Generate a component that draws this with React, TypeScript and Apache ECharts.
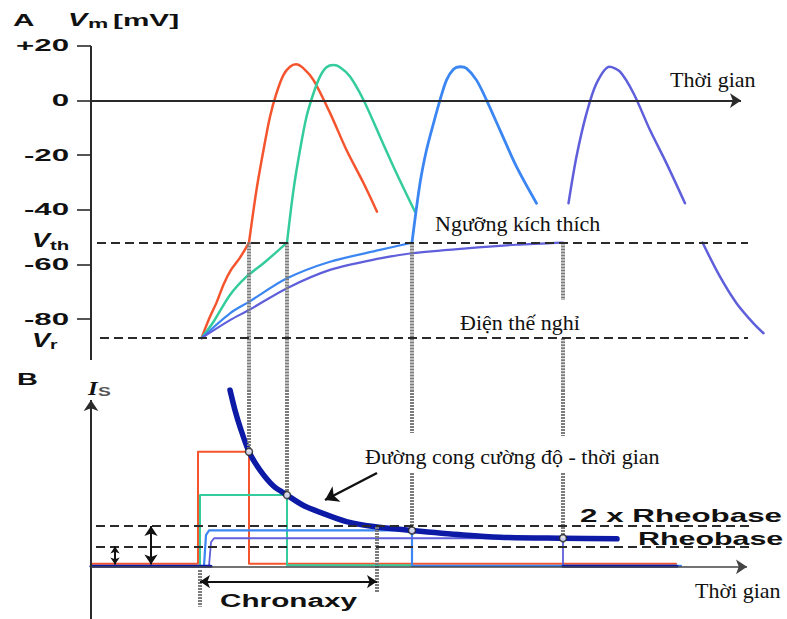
import React, { useEffect, useRef } from 'react';
import * as echarts from 'echarts';

// ---------- Panel A: membrane potential Vm (mV) vs time ----------
const vmTickValues = [20, 0, -20, -40, -60, -80];
const vmTickLabels = ['+20', '0', '-20', '-40', '-60', '-80'];
const V_TH = -52; // threshold potential
const V_R = -87; // resting potential

const redRise = [[2.21, -87], [2.36, -80], [2.51, -74], [2.66, -67], [2.8, -62], [2.98, -57.5], [3.16, -52]];
const redSpike = [[3.16, -52], [3.31, -32.7], [3.45, -18.1], [3.58, -5.9], [3.71, 2.7], [3.85, 9.4], [3.98, 12.4], [4.1, 13.3], [4.25, 11.8], [4.45, 7.5], [4.78, -4.5], [5.11, -18.1], [5.45, -30.2], [5.72, -40.7]];
const greenRise = [[2.21, -87], [2.45, -81], [2.78, -71.2], [3.11, -64.5], [3.45, -59.6], [3.92, -52]];
const greenSpike = [[3.92, -52], [4.05, -32.7], [4.18, -18.1], [4.31, -5.9], [4.45, 2.7], [4.58, 8.8], [4.71, 12.2], [4.85, 13], [4.98, 12.2], [5.18, 8.8], [5.45, 0.2], [5.78, -13.2], [6.11, -26.6], [6.48, -40.7]];
const blueRise = [[2.21, -87], [2.78, -77.9], [3.16, -73.7], [3.92, -65.1], [4.78, -59], [5.78, -54.7], [6.42, -52]];
const blueSpike = [[6.42, -52], [6.58, -30.3], [6.71, -18.1], [6.85, -8.3], [6.98, 0.2], [7.11, 7.5], [7.25, 11.5], [7.38, 12.4], [7.51, 11.8], [7.71, 7.5], [7.91, 0.2], [8.18, -10.8], [8.51, -24.2], [8.91, -37.6]];
const purpleRise = [[2.21, -87], [2.78, -80.4], [3.16, -76.7], [3.92, -68.7], [4.78, -62], [5.78, -57.8], [6.42, -55.9], [7.51, -54.1], [8.5, -52.8], [9.44, -52]];
const purpleSpike = [[9.55, -37.6], [9.71, -20.5], [9.91, -4.7], [10.11, 6.3], [10.37, 12.4], [10.58, 10.6], [10.85, 2.7], [11.18, -10.8], [11.51, -23], [11.88, -37.6]];
const purpleTail = [[12.23, -52], [12.58, -64.5], [12.91, -74.2], [13.25, -81.6], [13.45, -85.2]];

// guide (dotted) lines in panel A: [time, from mV, to mV]
const guideSegmentsA = [[3.16, V_TH, -106], [3.92, V_TH, -106], [6.42, V_TH, -106], [9.44, V_TH, -73], [9.44, V_R, -106]];

// ---------- Panel B: stimulus current Is (x rheobase) vs time ----------
const RHEOBASE = 1;
const TWO_RHEOBASE = 2;
const onsetTime = 2.18;
const chronaxyTime = 5.72;
const thresholdTimes = [3.16, 3.92, 6.42, 9.44];
const thresholdCurrents = [5.63, 3.51, 1.78, 1.4];

const redPulse = [[0, 0.15], [2.14, 0.15], [2.14, 5.63], [3.16, 5.63], [3.16, 0.15], [11.7, 0.15]];
const greenPulse = [[2.18, 0.08], [2.18, 3.51], [3.92, 3.51], [3.92, 0.08], [6.42, 0.08]];
const bluePulse = [[2.26, 0.05], [2.3, 1.55], [2.36, 1.78], [6.42, 1.78], [6.42, 0.05], [11.8, 0.05]];
const purplePulse = [[2.36, 0.05], [2.4, 1.2], [2.46, 1.4], [9.44, 1.4], [9.44, 0.05]];
const darkBaseStart = [[0, 0.03], [2.4, 0.03]];
const darkBaseEnd = [[9.44, 0.03], [11.72, 0.03]];

// strength–duration curve
const sdCurve = [[2.78, 8.65], [2.88, 7.66], [2.98, 6.85], [3.16, 5.63], [3.38, 4.73], [3.65, 3.95], [3.92, 3.51], [4.25, 3.0], [4.6, 2.65], [5.11, 2.21], [5.65, 1.97], [6.42, 1.78], [7.45, 1.56], [8.18, 1.45], [9.44, 1.4], [10.52, 1.37]];

// guide (dotted) lines in panel B: [time, from I, to I]
const guideSegmentsB = [[3.16, 8.65, 5.63], [3.92, 8.65, 3.51], [6.42, 8.65, 6.55], [6.42, 4.59, 1.78], [9.44, 8.65, 6.4], [9.44, 4.59, 1.4], [onsetTime, -0.15, -1.95], [chronaxyTime, 1.95, -1.27]];

const RED = '#f4552e';
const GREEN = '#34cc9c';
const BLUE = '#3b86f2';
const PURPLE = '#5f5fdc';
const DARK = '#0c1aa6';
const GUIDE = '#7c7c7c';
const INK = '#2a2a2a';

const seg = (x1: number, y1: number, x2: number, y2: number) => [{ coord: [x1, y1] }, { coord: [x2, y2] }];

const markLineSeries = (grid: number, data: any[], lineStyle: any, symbol: any = ['none', 'none'], symbolSize: any = 10, z = 1) => ({
  type: 'line',
  xAxisIndex: grid,
  yAxisIndex: grid,
  data: [],
  silent: true,
  z,
  markLine: {
    silent: true,
    symbol,
    symbolSize,
    label: { show: false },
    emphasis: { disabled: true },
    lineStyle,
    itemStyle: { color: lineStyle.color },
    data,
  },
});

const curve = (grid: number, data: number[][], color: string, width: number, smooth: any = 0.3, z = 3) => ({
  type: 'line',
  xAxisIndex: grid,
  yAxisIndex: grid,
  data,
  symbol: 'none',
  showSymbol: false,
  smooth,
  silent: true,
  z,
  lineStyle: { color, width, cap: 'round', join: 'round' },
  itemStyle: { color },
});

function buildOption() {
  const hiddenAxis = (min: number, max: number, gridIndex: number) => ({
    type: 'value', gridIndex, min, max, show: false, splitLine: { show: false },
  });
  return {
    animation: false,
    backgroundColor: '#ffffff',
    grid: [
      { left: 91, top: 46, width: 696, height: 344, containLabel: false, outerBoundsMode: 'none' },
      { left: 91, top: 390, width: 696, height: 229, containLabel: false, outerBoundsMode: 'none' },
    ],
    xAxis: [hiddenAxis(0, 13.92, 0), hiddenAxis(0, 13.92, 1)],
    yAxis: [
      {
        type: 'value', gridIndex: 0, min: -106, max: 20,
        axisLine: { show: false },
        axisLabel: { show: false },
        splitLine: { show: false },
        axisTick: { show: true, inside: false, length: 14, customValues: vmTickValues, lineStyle: { color: INK, width: 1.6 } },
      },
      hiddenAxis(-2.55, 8.65, 1),
    ],
    series: [
      // ---- panel A ----
      markLineSeries(0, guideSegmentsA.map(([t, a, b]) => seg(t, a, t, b)), { color: GUIDE, width: 4, type: [2, 1] }),
      markLineSeries(0, [seg(0.12, V_TH, 13.14, V_TH), seg(0.18, V_R, 13.14, V_R)], { color: INK, width: 1.8, type: [9, 5] }),
      markLineSeries(0, [seg(0, 20, 0, -95)], { color: INK, width: 2, type: 'solid' }),
      markLineSeries(0, [seg(0, 0, 13, 0)], { color: INK, width: 2, type: 'solid' }, ['none', 'arrow'], 11, 2),
      curve(0, redRise, RED, 2.5),
      curve(0, redSpike, RED, 2.5),
      curve(0, greenRise, GREEN, 2.5),
      curve(0, greenSpike, GREEN, 2.5),
      curve(0, blueRise, BLUE, 2.2),
      curve(0, blueSpike, BLUE, 2.8),
      curve(0, purpleRise, PURPLE, 2.2),
      curve(0, purpleSpike, PURPLE, 2.5),
      curve(0, purpleTail, PURPLE, 2.5),
      // ---- panel B ----
      markLineSeries(1, guideSegmentsB.map(([t, a, b]) => seg(t, a, t, b)), { color: GUIDE, width: 4, type: [2, 1] }),
      markLineSeries(1, [seg(0.1, TWO_RHEOBASE, 13.24, TWO_RHEOBASE), seg(0.1, RHEOBASE, 13.24, RHEOBASE)], { color: INK, width: 1.8, type: [9, 5] }),
      markLineSeries(1, [seg(0, -2.55, 0, 8.16)], { color: INK, width: 2, type: 'solid' }, ['none', 'arrow'], 11, 2),
      markLineSeries(1, [seg(0, 0, 13.12, 0)], { color: '#444', width: 1.6, type: 'solid' }, ['none', 'arrow'], 11, 2),
      markLineSeries(1, [seg(0.48, 0.12, 0.48, RHEOBASE)], { color: '#111', width: 2, type: 'solid' }, ['arrow', 'arrow'], 7, 6),
      markLineSeries(1, [seg(1.2, 0.12, 1.2, TWO_RHEOBASE), seg(onsetTime, -0.72, chronaxyTime, -0.72)], { color: '#111', width: 2, type: 'solid' }, ['arrow', 'arrow'], 10, 6),
      markLineSeries(1, [seg(5.72, 4.59, 4.68, 3.27)], { color: '#111', width: 2.5, type: 'solid' }, ['none', 'arrow'], 13, 6),
      curve(1, redPulse, RED, 2, false),
      curve(1, greenPulse, GREEN, 2, false),
      curve(1, bluePulse, BLUE, 2.2, false),
      curve(1, purplePulse, PURPLE, 1.8, false),
      curve(1, darkBaseStart, DARK, 3, false),
      curve(1, darkBaseEnd, DARK, 3, false),
      curve(1, sdCurve, DARK, 5.5, 0.3, 4),
      {
        type: 'scatter', xAxisIndex: 1, yAxisIndex: 1, silent: true, z: 5,
        data: thresholdTimes.map((t, i) => [t, thresholdCurrents[i]]),
        symbol: 'circle', symbolSize: 7,
        itemStyle: { color: '#ffffff', borderColor: '#222', borderWidth: 1.5 },
      },
    ],
  };
}

const SANS = '"Liberation Sans", Arial, sans-serif';
const SERIF = '"Liberation Serif", "Times New Roman", serif';

type TOpt = { size: number; family?: string; weight?: string; italic?: boolean; sx?: number; align?: string; color?: string };
const txt = (text: string, x: number, y: number, o: TOpt) => ({
  type: 'text',
  x,
  y,
  scaleX: o.sx ?? 1,
  silent: true,
  z: 100,
  style: {
    text,
    fill: o.color ?? '#111',
    fontSize: o.size,
    fontFamily: o.family ?? SANS,
    fontWeight: o.weight ?? 'bold',
    fontStyle: o.italic ? 'italic' : 'normal',
    textAlign: o.align ?? 'left',
    textVerticalAlign: 'middle',
  },
});

function buildGraphics(toA: (t: number, v: number) => number[]) {
  const g: any[] = [];
  // panel titles
  g.push(txt('A', 13, 20, { size: 17, sx: 1.75 }));
  g.push(txt('V', 68, 20, { size: 18, italic: true, sx: 1.6 }));
  g.push(txt('m', 88, 24, { size: 12, sx: 1.9 }));
  g.push(txt('[mV]', 113, 20, { size: 17, sx: 1.75 }));
  // y tick labels (panel A)
  vmTickValues.forEach((v, i) => {
    const [, y] = toA(0, v);
    g.push(txt(vmTickLabels[i], 69, y, { size: 16, sx: 1.95, align: 'right' }));
  });
  const yTh = toA(0, V_TH)[1];
  const yR = toA(0, V_R)[1];
  g.push(txt('V', 32, yTh - 3, { size: 20, italic: true, sx: 1.35 }));
  g.push(txt('th', 50, yTh + 3, { size: 12, sx: 1.7 }));
  g.push(txt('V', 32, yR + 2, { size: 20, italic: true, sx: 1.35 }));
  g.push(txt('r', 50, yR + 7, { size: 12, sx: 1.6 }));
  // annotations panel A
  g.push(txt('Thời gian', 670, 79, { size: 22, family: SERIF, weight: 'normal' }));
  g.push(txt('Ngưỡng kích thích', 435, 223, { size: 22, family: SERIF, weight: 'normal' }));
  g.push(txt('Điện thế nghỉ', 460, 322, { size: 22, family: SERIF, weight: 'normal' }));
  // panel B
  g.push(txt('B', 17, 379, { size: 17, sx: 1.7 }));
  g.push(txt('I', 88, 389, { size: 19, family: SERIF, italic: true, sx: 1.3 }));
  g.push(txt('S', 98, 392, { size: 12, sx: 1.6, color: '#555' }));
  g.push(txt('Đường cong cường độ - thời gian', 365, 456, { size: 22, family: SERIF, weight: 'normal' }));
  g.push(txt('Thời gian', 695, 590, { size: 22, family: SERIF, weight: 'normal' }));
  g.push(txt('Chronaxy', 220, 601, { size: 18, sx: 1.65 }));
  g.push(txt('2 x Rheobase', 580, 515, { size: 19, sx: 1.65 }));
  g.push(txt('Rheobase', 638, 538, { size: 19, sx: 1.6 }));
  return g;
}

export default function App() {
  const ref = useRef<HTMLDivElement>(null);
  useEffect(() => {
    const el = ref.current;
    if (!el) return;
    const chart = echarts.init(el, null, { renderer: 'svg' });
    chart.setOption(buildOption() as any);
    const toA = (t: number, v: number) => chart.convertToPixel({ gridIndex: 0 } as any, [t, v]) as number[];
    chart.setOption({ graphic: buildGraphics(toA) } as any);
    return () => chart.dispose();
  }, []);
  return (
    <div
      ref={ref}
      style={{ position: 'absolute', left: 0, top: 0, width: 787, height: 619, background: '#fff' }}
    />
  );
}
